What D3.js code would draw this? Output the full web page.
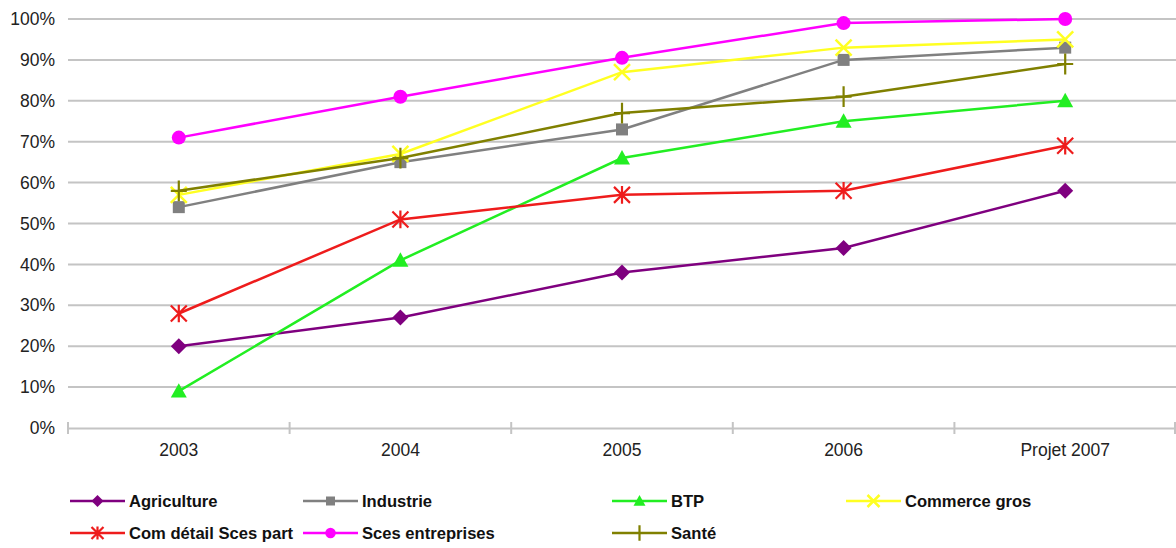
<!DOCTYPE html>
<html><head><meta charset="utf-8">
<script src="https://cdn.jsdelivr.net/npm/d3@7"></script>
<style>body{margin:0;background:#fff;}svg{display:block;font-family:"Liberation Sans",Arial,sans-serif;}</style>
</head><body>
<svg id="c" width="1176" height="548"></svg>
<script>
const categories = ["2003","2004","2005","2006","Projet 2007"];
const yTicks = [0,10,20,30,40,50,60,70,80,90,100];
const agriculture = [20,27,38,44,58];
const industrie = [54,65,73,90,93];
const btp = [9,41,66,75,80];
const commerceGros = [57,67,87,93,95];
const comDetail = [28,51,57,58,69];
const scesEntreprises = [71,81,90.5,99,100];
const sante = [58,66,77,81,89];
const seriesNames = ["Agriculture","Industrie","BTP","Commerce gros","Com détail Sces part","Sces entreprises","Santé"];
const seriesValues = [agriculture,industrie,btp,commerceGros,comDetail,scesEntreprises,sante];
const seriesColors = ["#7f007f","#808080","#22ee22","#ffff22","#ee1c1c","#ff00ff","#808000"];
const seriesMarkers = ["diamond","square","triangle","x","star","circle","plus"];
const drawOrder = [0,1,2,4,3,6,5];

(function(){
const svg = d3.select("#c");
const pl = 68, pr = 1176, pt = 19, pb = 428;
const x = d3.scaleBand().domain(categories).range([pl, pr]);
const y = d3.scaleLinear().domain([0,100]).range([pb, pt]);

svg.append("g").selectAll("line").data(yTicks.filter(d=>d>0)).join("line")
  .attr("x1", pl).attr("x2", pr).attr("y1", d=>y(d)).attr("y2", d=>y(d))
  .attr("stroke", "#c4c4c4").attr("stroke-width", 2);

svg.append("g").selectAll("text").data(yTicks).join("text")
  .attr("x", 55).attr("y", d=>y(d)).attr("dy","0.35em").attr("text-anchor","end")
  .attr("font-size", 17.5).attr("fill","#222").text(d=>d+"%");

const xa = svg.append("g").attr("transform",`translate(0,${pb})`)
  .call(d3.axisBottom(x).tickSize(0).tickPadding(16));
xa.select(".domain").attr("stroke","#c4c4c4").attr("stroke-width",2);
xa.selectAll("text").attr("font-size",17.5).attr("fill","#222").attr("font-family","Liberation Sans, Arial, sans-serif");
const bounds = categories.map(c=>x(c)).concat([x(categories[categories.length-1])+x.bandwidth()]);
svg.append("g").selectAll("line").data(bounds).join("line")
  .attr("x1",d=>Math.min(d,pr-1)).attr("x2",d=>Math.min(d,pr-1)).attr("y1",pb-6).attr("y2",pb+6)
  .attr("stroke","#c4c4c4").attr("stroke-width",2);

const cx = c => x(c) + x.bandwidth()/2;

function marker(g, type, color, px, py, s) {
  s = s || 1;
  if (type==="diamond") {
    const r=8*s;
    g.append("path").attr("d",`M${px},${py-r}L${px+r},${py}L${px},${py+r}L${px-r},${py}Z`).attr("fill",color);
  } else if (type==="square") {
    g.append("rect").attr("x",px-6*s).attr("y",py-6*s).attr("width",12*s).attr("height",12*s).attr("fill",color);
  } else if (type==="triangle") {
    const r=8*s;
    g.append("path").attr("d",`M${px},${py-r}L${px+r},${py+r*0.8}L${px-r},${py+r*0.8}Z`).attr("fill",color);
  } else if (type==="circle") {
    g.append("circle").attr("cx",px).attr("cy",py).attr("r",7*s).attr("fill",color);
  } else if (type==="x") {
    const r=8*s;
    g.append("path").attr("d",`M${px-r},${py-r}L${px+r},${py+r}M${px-r},${py+r}L${px+r},${py-r}`)
      .attr("stroke",color).attr("stroke-width",2.5);
  } else if (type==="star") {
    const r=8*s;
    g.append("path").attr("d",`M${px-r},${py-r}L${px+r},${py+r}M${px-r},${py+r}L${px+r},${py-r}M${px},${py-r*1.1}L${px},${py+r*1.1}`)
      .attr("stroke",color).attr("stroke-width",2.2);
  } else if (type==="plus") {
    const r=8*s;
    g.append("path").attr("d",`M${px-r},${py}L${px+r},${py}M${px},${py-r*1.3}L${px},${py+r*1.3}`)
      .attr("stroke",color).attr("stroke-width",2.2);
  }
}

const line = d3.line().x((d,i)=>cx(categories[i])).y(d=>y(d));
drawOrder.forEach(k=>{
  const g = svg.append("g");
  g.append("path").datum(seriesValues[k]).attr("d",line).attr("fill","none")
    .attr("stroke",seriesColors[k]).attr("stroke-width",2.5);
  seriesValues[k].forEach((v,i)=>marker(g, seriesMarkers[k], seriesColors[k], cx(categories[i]), y(v)));
});

const legX = [70,303,612,846];
const legY = [501,533];
seriesNames.forEach((n,k)=>{
  const col = k<4 ? k : k-4, row = k<4 ? 0 : 1;
  const lx = legX[col], ly = legY[row];
  const g = svg.append("g");
  g.append("line").attr("x1",lx).attr("x2",lx+55).attr("y1",ly).attr("y2",ly)
    .attr("stroke",seriesColors[k]).attr("stroke-width",2.5);
  marker(g, seriesMarkers[k], seriesColors[k], lx+27.5, ly, 0.75);
  g.append("text").attr("x",lx+59).attr("y",ly).attr("dy","0.35em")
    .attr("font-size",16.6).attr("font-weight","bold").attr("fill","#111").text(n);
});
})();
</script>
</body></html>
